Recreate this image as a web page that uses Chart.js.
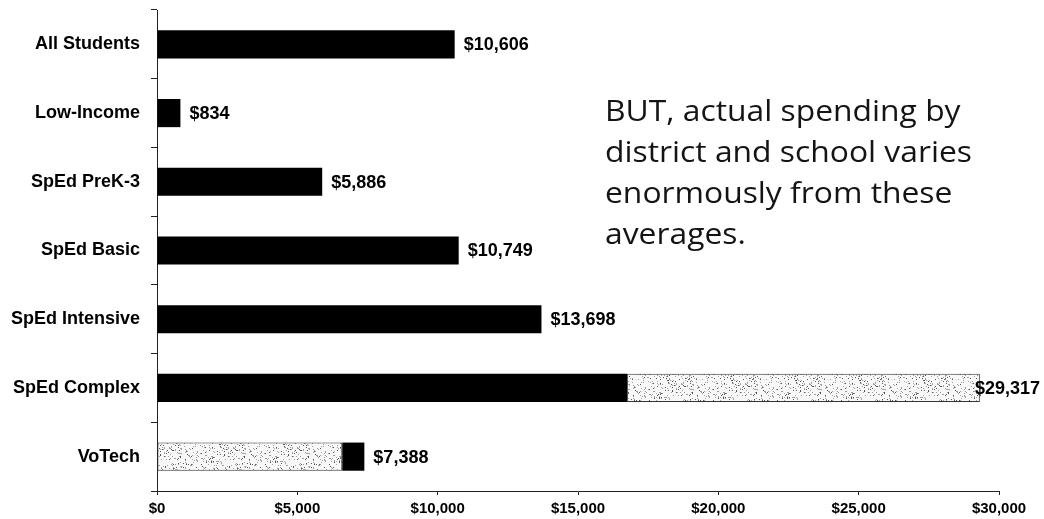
<!DOCTYPE html>
<html>
<head>
<meta charset="utf-8">
<script src="https://cdn.jsdelivr.net/npm/chart.js@4/dist/chart.umd.min.js"></script>
<style>
  html, body { margin: 0; padding: 0; background: #fff; }
  #wrap { position: relative; width: 1044px; height: 519px; }
</style>
</head>
<body>
<div id="wrap"><canvas id="chart"></canvas></div>
<script>
// Per-pupil funding by student category
const categories = ['All Students', 'Low-Income', 'SpEd PreK-3', 'SpEd Basic', 'SpEd Intensive', 'SpEd Complex', 'VoTech'];
const totals = [10606, 834, 5886, 10749, 13698, 29317, 7388];
// shaded portion that starts at zero (VoTech)
const shadedBase = [null, null, null, null, null, null, 6600];
// shaded portion that runs up to the total (SpEd Complex)
const shadedTop = [null, null, null, null, null, 12567, null];
const xTickValues = [0, 5000, 10000, 15000, 20000, 25000, 30000];
const noteLines = ['BUT, actual spending by', 'district and school varies', 'enormously from these', 'averages.'];

// solid segment = total minus any shaded parts
const solid = totals.map((t, i) => t - (shadedBase[i] || 0) - (shadedTop[i] || 0));

const money = v => '$' + Number(v).toLocaleString('en-US');

// light speckled fill for the shaded segments
function speckle() {
  const c = document.createElement('canvas');
  c.width = 64; c.height = 32;
  const g = c.getContext('2d');
  g.fillStyle = '#f8f8f8';
  g.fillRect(0, 0, c.width, c.height);
  for (let y = 0; y < c.height; y++) {
    for (let x = 0; x < c.width; x++) {
      let h = (x * 374761393 + y * 668265263) | 0;
      h = Math.imul(h ^ (h >>> 13), 1274126177);
      h = (h ^ (h >>> 16)) >>> 0;
      const r = h % 100;
      if (r < 13) { g.fillStyle = r < 4 ? '#555' : '#a0a0a0'; g.fillRect(x, y, 1, 1); }
    }
  }
  return g.createPattern(c, 'repeat');
}
const shadeFill = speckle();

const BOLD_FAMILY = '"Liberation Sans", Arial, sans-serif';

// value labels at the end of each bar
const endLabels = {
  id: 'endLabels',
  afterDatasetsDraw(chart) {
    const { ctx } = chart;
    const xs = chart.scales.x, ys = chart.scales.y;
    ctx.save();
    ctx.font = 'bold 18px ' + BOLD_FAMILY;
    ctx.fillStyle = '#000';
    ctx.textBaseline = 'middle';
    ctx.textAlign = 'left';
    totals.forEach((t, i) => {
      const text = money(t);
      const w = ctx.measureText(text).width;
      let x = xs.getPixelForValue(t) + 9;
      x = Math.min(x, chart.width - 4 - w);
      ctx.fillText(text, x, ys.getPixelForValue(i) + 1);
    });
    ctx.restore();
  }
};

// side note text
const sideNote = {
  id: 'sideNote',
  afterDraw(chart) {
    const { ctx } = chart;
    ctx.save();
    ctx.font = '29px "Open Sans", "Noto Sans", sans-serif';
    ctx.fillStyle = '#141414';
    ctx.textBaseline = 'alphabetic';
    const sx = 367 / ctx.measureText(noteLines[1]).width;
    const left = 605, top = 121, step = 41;
    noteLines.forEach((line, i) => {
      ctx.save();
      ctx.translate(left, top + i * step);
      ctx.scale(sx, 1);
      ctx.fillText(line, 0, 0);
      ctx.restore();
    });
    ctx.restore();
  }
};

new Chart(document.getElementById('chart'), {
  type: 'bar',
  data: {
    labels: categories,
    datasets: [
      { data: shadedBase, backgroundColor: shadeFill, borderColor: '#333', borderWidth: 1, borderSkipped: false },
      { data: solid, backgroundColor: '#000', borderWidth: 0 },
      { data: shadedTop, backgroundColor: shadeFill, borderColor: '#333', borderWidth: 1, borderSkipped: false }
    ]
  },
  options: {
    indexAxis: 'y',
    responsive: true,
    maintainAspectRatio: false,
    animation: false,
    devicePixelRatio: 1,
    layout: { padding: { top: 10, right: 45, bottom: 0, left: 0 } },
    datasets: { bar: { barPercentage: 0.41, categoryPercentage: 1 } },
    plugins: { legend: { display: false }, tooltip: { enabled: false } },
    scales: {
      x: {
        stacked: true,
        min: 0, max: 30000,
        afterBuildTicks: s => { s.ticks = xTickValues.map(v => ({ value: v })); },
        afterFit: s => { s.height = 28; },
        border: { display: true, color: '#222', width: 1 },
        grid: { drawOnChartArea: false, drawTicks: true, tickLength: 4, color: '#222' },
        ticks: {
          padding: 5,
          color: '#000',
          font: { family: BOLD_FAMILY, size: 15, weight: 'bold' },
          callback: v => money(v),
          maxRotation: 0
        }
      },
      y: {
        stacked: true,
        offset: true,
        afterFit: s => { s.width = 157; s.paddingTop = 0; s.paddingBottom = 0; },
        border: { display: true, color: '#222', width: 1 },
        grid: { offset: true, drawOnChartArea: false, drawTicks: true, tickLength: 6, color: '#222' },
        ticks: {
          padding: 11,
          color: '#000',
          font: { family: BOLD_FAMILY, size: 18, weight: 'bold' }
        }
      }
    }
  },
  plugins: [endLabels, sideNote]
});
</script>
</body>
</html>
